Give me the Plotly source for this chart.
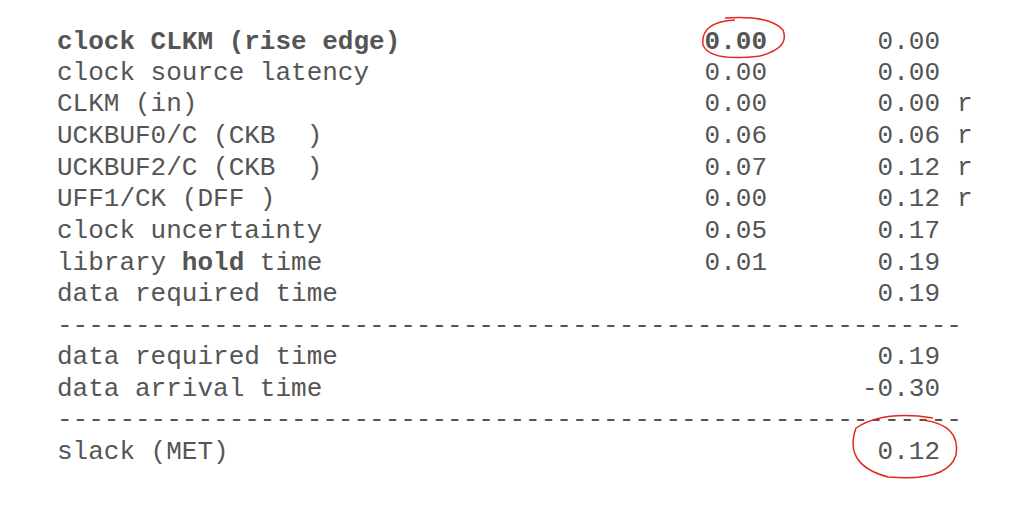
import plotly.graph_objects as go

labels = ["<b>clock CLKM (rise edge)</b>", "clock source latency", "CLKM (in)",
          "UCKBUF0/C (CKB  )", "UCKBUF2/C (CKB  )", "UFF1/CK (DFF )",
          "clock uncertainty", "library <b>hold</b> time", "data required time",
          "-"*58, "data required time", "data arrival time", "-"*58, "slack (MET)"]
incr = ["<b>0.00</b>", "0.00", "0.00", "0.06", "0.07", "0.00", "0.05", "0.01", "", "", "", "", "", ""]
path = ["0.00", "0.00", "0.00", "0.06", "0.12", "0.12", "0.17", "0.19", "0.19", "", "0.19", "-0.30", "", "0.12"]
flags = ["", "", "r", "r", "r", "r", "", "", "", "", "", "", "", ""]
rows = [34, 65, 96, 128, 160, 191, 223, 255, 286, 318, 349, 381, 412, 444]

font = dict(family="Liberation Mono, Courier New, monospace", size=26, color="#555")
fig = go.Figure()
fig.add_trace(go.Scatter(x=[49]*len(rows), y=rows, text=labels, mode="text",
                         textposition="middle right", textfont=font))
fig.add_trace(go.Scatter(x=[759]*len(rows), y=rows, text=incr, mode="text",
                         textposition="middle left", textfont=font))
fig.add_trace(go.Scatter(x=[932]*len(rows), y=rows, text=path, mode="text",
                         textposition="middle left", textfont=font))
fig.add_trace(go.Scatter(x=[949]*len(rows), y=rows, text=flags, mode="text",
                         textposition="middle right", textfont=font))
fig.add_shape(type="path", path="M 727 12 Q 692 14 695 37 Q 702 54 752 48 Q 782 40 775 22 Q 762 7 717 10",
              line=dict(color="#e0281e", width=1.5))
fig.add_shape(type="path", path="M 925 410 Q 875 402 848 420 Q 835 457 880 469 Q 940 474 948 447 Q 953 417 915 412",
              line=dict(color="#e0281e", width=1.5))
fig.update_layout(width=1033, height=505, margin=dict(l=0, r=0, t=0, b=0),
                  plot_bgcolor="white", paper_bgcolor="white", showlegend=False,
                  xaxis=dict(range=[0, 1033], visible=False, fixedrange=True),
                  yaxis=dict(range=[505, 0], visible=False, fixedrange=True))
fig.write_html("out.html")
